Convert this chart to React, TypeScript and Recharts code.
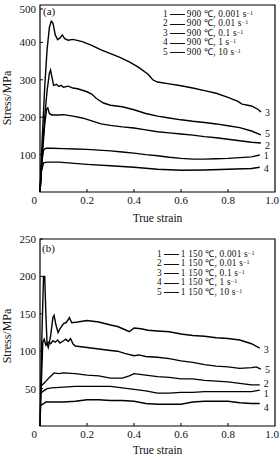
import React from 'react';
import { LineChart, Line, XAxis, YAxis, ReferenceArea } from 'recharts';

type Pt = [number, number];

// (a) 900 C
const a1: Pt[] = [[0, 0], [0.008, 80], [0.015, 112], [0.025, 117], [0.05, 117], [0.1, 116], [0.15, 115], [0.2, 114], [0.25, 112], [0.3, 110], [0.35, 107], [0.4, 104], [0.45, 100], [0.5, 97], [0.55, 93], [0.6, 90], [0.65, 88], [0.7, 88], [0.75, 89], [0.8, 90], [0.85, 92], [0.9, 94], [0.935, 99]];
const a2: Pt[] = [[0, 0], [0.01, 100], [0.02, 180], [0.028, 222], [0.033, 225], [0.04, 210], [0.05, 206], [0.08, 206], [0.1, 207], [0.14, 203], [0.18, 198], [0.22, 190], [0.26, 182], [0.3, 178], [0.35, 174], [0.4, 171], [0.45, 166], [0.5, 161], [0.55, 158], [0.6, 155], [0.65, 152], [0.7, 148], [0.75, 145], [0.8, 141], [0.85, 137], [0.9, 133], [0.94, 131]];
const a3: Pt[] = [[0, 0], [0.01, 150], [0.02, 280], [0.03, 380], [0.04, 440], [0.048, 457], [0.055, 452], [0.065, 420], [0.075, 407], [0.085, 412], [0.095, 420], [0.105, 410], [0.12, 406], [0.14, 408], [0.18, 402], [0.22, 392], [0.26, 380], [0.3, 370], [0.34, 360], [0.38, 348], [0.42, 333], [0.46, 315], [0.48, 300], [0.5, 294], [0.55, 289], [0.6, 284], [0.65, 278], [0.7, 271], [0.75, 264], [0.8, 253], [0.84, 243], [0.86, 235], [0.9, 230], [0.93, 220], [0.94, 214]];
const a4: Pt[] = [[0, 0], [0.006, 55], [0.015, 78], [0.03, 80], [0.08, 80], [0.12, 78], [0.2, 74], [0.3, 70], [0.4, 66], [0.5, 61], [0.6, 58], [0.7, 59], [0.8, 61], [0.9, 63], [0.935, 66]];
const a5: Pt[] = [[0, 0], [0.01, 110], [0.02, 200], [0.03, 270], [0.04, 318], [0.045, 326], [0.05, 310], [0.058, 285], [0.07, 288], [0.08, 282], [0.09, 285], [0.1, 280], [0.12, 283], [0.14, 278], [0.16, 276], [0.2, 268], [0.22, 262], [0.24, 250], [0.27, 238], [0.3, 232], [0.35, 228], [0.4, 220], [0.45, 210], [0.5, 203], [0.55, 198], [0.6, 193], [0.65, 189], [0.7, 186], [0.75, 182], [0.8, 177], [0.85, 172], [0.9, 163], [0.94, 153]];

// (b) 1150 C
const b1: Pt[] = [[0, 43], [0.015, 47], [0.03, 50], [0.05, 51], [0.1, 52], [0.15, 53], [0.2, 53], [0.25, 53], [0.3, 53], [0.35, 51], [0.4, 49], [0.45, 47], [0.5, 44], [0.55, 44], [0.6, 45], [0.65, 45], [0.7, 46], [0.75, 46], [0.8, 46], [0.85, 46], [0.9, 46], [0.935, 48]];
const b2: Pt[] = [[0, 52], [0.02, 58], [0.04, 65], [0.06, 71], [0.08, 70], [0.1, 71], [0.15, 70], [0.2, 68], [0.25, 67], [0.3, 64], [0.35, 64], [0.38, 67], [0.4, 70], [0.45, 68], [0.5, 66], [0.55, 65], [0.6, 63], [0.65, 63], [0.7, 61], [0.75, 60], [0.8, 59], [0.85, 57], [0.9, 55], [0.935, 55]];
const b3: Pt[] = [[0, 0], [0.008, 120], [0.015, 200], [0.02, 200], [0.025, 150], [0.03, 110], [0.035, 105], [0.045, 120], [0.055, 145], [0.06, 148], [0.068, 135], [0.077, 125], [0.085, 130], [0.1, 137], [0.11, 138], [0.12, 142], [0.125, 145], [0.135, 138], [0.16, 139], [0.2, 141], [0.25, 139], [0.3, 135], [0.33, 133], [0.36, 129], [0.38, 126], [0.4, 131], [0.43, 130], [0.46, 128], [0.5, 127], [0.55, 126], [0.6, 123], [0.65, 121], [0.7, 120], [0.75, 118], [0.8, 117], [0.85, 115], [0.9, 110], [0.935, 104]];
const b4: Pt[] = [[0, 27], [0.015, 30], [0.025, 32], [0.05, 32], [0.1, 32], [0.15, 33], [0.2, 35], [0.25, 35], [0.3, 34], [0.35, 34], [0.4, 33], [0.45, 30], [0.5, 29], [0.55, 29], [0.6, 29], [0.65, 32], [0.7, 33], [0.75, 33], [0.8, 33], [0.85, 31], [0.9, 30], [0.935, 30]];
const b5: Pt[] = [[0, 0], [0.006, 60], [0.012, 112], [0.018, 116], [0.025, 108], [0.035, 112], [0.045, 110], [0.055, 114], [0.065, 112], [0.075, 115], [0.085, 111], [0.1, 114], [0.11, 116], [0.12, 113], [0.13, 117], [0.14, 110], [0.15, 107], [0.2, 105], [0.25, 103], [0.3, 101], [0.33, 100], [0.36, 97], [0.4, 94], [0.42, 95], [0.45, 93], [0.5, 92], [0.55, 90], [0.6, 87], [0.65, 85], [0.7, 82], [0.75, 80], [0.8, 79], [0.85, 77], [0.9, 78], [0.92, 79], [0.94, 76]];

const xTicks = [0, 0.2, 0.4, 0.6, 0.8, 1.0];
const yTicksA = [0, 100, 200, 300, 400, 500];
const yTicksB = [0, 50, 100, 150, 200, 250];

const rates = ['0.001', '0.01', '0.1', '1', '10'];

// nudges for the curve-number labels at the right end (1..5)
const labelShiftA = [4, 6, 4, 5, 2];
const labelShiftB = [7, 2, 5, 7, 4];

const FONT = '"Liberation Serif", serif';

const toData = (pts: Pt[]) => pts.map(([x, y]) => ({ x, y }));

const XTick = (props: any) => {
  const { x, y, payload } = props;
  const v = payload.value;
  const label = v === 0 ? '0' : v.toFixed(1);
  const anchor = v === 0 ? 'end' : 'middle';
  const tx = v === 0 ? x - 3 : v === 1 ? x - 3 : x;
  return (
    <g>
      {v !== 0 && v !== 1 && <line x1={x} y1={y} x2={x} y2={y - 3} stroke="#000" />}
      <text x={tx} y={y + 12} textAnchor={anchor} fontSize={11} fontFamily={FONT} fill="#111">
        {label}
      </text>
    </g>
  );
};

const YTick = (props: any) => {
  const { x, y, payload } = props;
  if (payload.value === 0) return <g />;
  return (
    <g>
      <line x1={x} y1={y} x2={x + 3} y2={y} stroke="#000" />
      <text x={x - 4} y={y + 4} textAnchor="end" fontSize={11} fontFamily={FONT} fill="#111">
        {payload.value}
      </text>
    </g>
  );
};

const endLabel = (name: string, n: number, dy: number) => (props: any) => {
  const { x, y, index } = props;
  if (index !== n - 1) return <g key={index} />;
  return (
    <text key={index} x={x + 4} y={y + dy} fontSize={10} fontFamily={FONT} fill="#111">
      {name}
    </text>
  );
};

type Panel = {
  tag: string;
  temp: string;
  curves: Pt[][];
  yMax: number;
  yTicks: number[];
  shifts: number[];
  titleOffset: number;
};

const Legend = ({ temp, top, left }: { temp: string; top: number; left: number }) => (
  <div style={{ position: 'absolute', top, left, fontFamily: FONT, fontSize: 9.3, lineHeight: '9.4px', letterSpacing: '0.2px', color: '#111', whiteSpace: 'nowrap' }}>
    {rates.map((r, i) => (
      <div key={r} style={{ height: 9.4 }}>
        {i + 1}
        <span style={{ display: 'inline-block', width: 15, borderTop: '1.2px solid #111', verticalAlign: 'middle', margin: '0 2px 0 2px' }} />
        {temp} ℃, {r} s<sup style={{ fontSize: 6, verticalAlign: 'top', lineHeight: '6px' }}>−1</sup>
      </div>
    ))}
  </div>
);

const PanelChart = ({ p, height, margin }: { p: Panel; height: number; margin: any }) => (
  <LineChart width={280} height={height} margin={margin}>
    <XAxis
      dataKey="x"
      type="number"
      domain={[0, 1]}
      ticks={xTicks}
      axisLine={false}
      tickLine={false}
      tickSize={0}
      tickMargin={0}
      tick={<XTick />}
      height={height - margin.top - 187 - margin.bottom}
      label={{ value: 'True strain', position: 'insideBottom', offset: p.titleOffset, fontSize: 11.5, fontFamily: FONT, fill: '#111' }}
    />
    <YAxis
      type="number"
      domain={[0, p.yMax]}
      ticks={p.yTicks}
      axisLine={false}
      tickLine={false}
      tickSize={0}
      tickMargin={0}
      tick={<YTick />}
      width={40}
    />
    <ReferenceArea x1={0} x2={1} y1={0} y2={p.yMax} fill="none" stroke="#000" strokeWidth={1.2} />
    {p.curves.map((c, i) => (
      <Line
        key={i}
        data={toData(c)}
        dataKey="y"
        type="linear"
        stroke="#000"
        strokeWidth={1.4}
        dot={false}
        isAnimationActive={false}
        label={endLabel(String(i + 1), c.length, p.shifts[i])}
      />
    ))}
  </LineChart>
);

const panelA: Panel = { tag: '(a)', temp: '900', curves: [a1, a2, a3, a4, a5], yMax: 500, yTicks: yTicksA, shifts: labelShiftA, titleOffset: 6 };
const panelB: Panel = { tag: '(b)', temp: '1 150', curves: [b1, b2, b3, b4, b5], yMax: 250, yTicks: yTicksB, shifts: labelShiftB, titleOffset: 3 };

const YTitle = ({ top }: { top: number }) => (
  <div style={{ position: 'absolute', left: 7, top, width: 0, height: 0 }}>
    <div style={{ position: 'absolute', transform: 'translate(-50%, -50%) rotate(-90deg)', fontFamily: FONT, fontSize: 12, color: '#111', whiteSpace: 'nowrap' }}>
      Stress/MPa
    </div>
  </div>
);

export default function App() {
  return (
    <div style={{ position: 'absolute', left: 0, top: 0, width: 280, height: 457, background: '#fff', overflow: 'hidden' }}>
      <div style={{ position: 'absolute', left: 0, top: 0 }}>
        <PanelChart p={panelA} height={228} margin={{ top: 5, right: 5, left: 0, bottom: 0 }} />
      </div>
      <div style={{ position: 'absolute', left: 0, top: 228 }}>
        <PanelChart p={panelB} height={229} margin={{ top: 11, right: 5, left: 0, bottom: 0 }} />
      </div>
      <YTitle top={98} />
      <YTitle top={336} />
      <div style={{ position: 'absolute', left: 43, top: 5, fontFamily: FONT, fontSize: 11, color: '#111' }}>{panelA.tag}</div>
      <div style={{ position: 'absolute', left: 42, top: 242, fontFamily: FONT, fontSize: 11, color: '#111' }}>{panelB.tag}</div>
      <Legend temp={panelA.temp} top={10} left={163} />
      <Legend temp={panelB.temp} top={250} left={157} />
    </div>
  );
}
